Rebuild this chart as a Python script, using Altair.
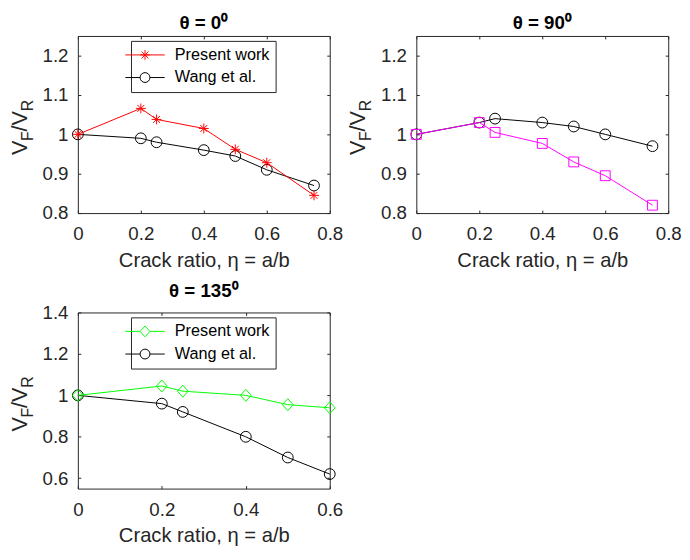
import altair as alt
import pandas as pd

# ---------------- data ----------------
eta_full = [0.0, 0.2, 0.25, 0.4, 0.5, 0.6, 0.75]
eta_135 = [0.0, 0.2, 0.25, 0.4, 0.5, 0.6]

present_0 = [1.0, 1.066, 1.038, 1.015, 0.962, 0.928, 0.845]
wang_0 = [1.0, 0.990, 0.980, 0.960, 0.945, 0.910, 0.870]

present_90 = [1.0, 1.030, 1.005, 0.977, 0.930, 0.895, 0.820]
wang_90 = [1.0, 1.030, 1.040, 1.030, 1.020, 1.000, 0.970]

present_135 = [1.0, 1.045, 1.020, 1.000, 0.955, 0.940]
wang_135 = [1.0, 0.960, 0.920, 0.800, 0.700, 0.620]

series_names = ["Present work", "Wang et al."]
titles = ["\u03b8 = 0\u2070", "\u03b8 = 90\u2070", "\u03b8 = 135\u2070"]
x_ticks_a = [0, 0.2, 0.4, 0.6, 0.8]
x_ticks_b = [0, 0.2, 0.4, 0.6]
y_ticks_a = [0.8, 0.9, 1.0, 1.1, 1.2]
y_ticks_b = [0.6, 0.8, 1.0, 1.2, 1.4]

# ---------------- styles ----------------
FONT = "Liberation Sans"
AX = "#262626"
W = 256

ASTER = "M-1,0L1,0M0,-1L0,1M-0.7,-0.7L0.7,0.7M-0.7,0.7L0.7,-0.7"
CIRC = "M1,0A1,1,0,1,1,-1,0A1,1,0,1,1,1,0"
SQR = "M-1,-1L1,-1L1,1L-1,1Z"
DIAM = "M-1,0L0,-1.1L1,0L0,1.1Z"
LINE = "M-4,0L-1,0M1,0L4,0"
LINE_THRU = "M-4,0L4,0"


def ytitle_layer():
    pieces = [
        ("V", 22, 0, 0),
        ("F", 16, 14.2, 6),
        ("/", 22, 24.0, 0),
        ("V", 22, 30.0, 0),
        ("R", 16, 44.5, 6),
    ]
    layers = []
    for txt, fs, dx, dy in pieces:
        layers.append(
            alt.Chart(alt.Data(values=[{"t": txt}]))
            .mark_text(font=FONT, fontSize=fs, angle=270, align="left",
                       baseline="alphabetic", dx=dx, dy=dy, color=AX)
            .encode(text="t:N", x=alt.value(-52), y=alt.value(121))
        )
    return layers


def panel(title, eta, present, wang, color, marker, msize, legend_marker,
          xdom, ydom, xticks, yticks, h):
    df = pd.DataFrame({
        "eta": eta * 2,
        "v": present + wang,
        "series": [series_names[0]] * len(eta) + [series_names[1]] * len(eta),
    })
    base = alt.Chart(df)
    xenc = alt.X("eta:Q", scale=alt.Scale(domain=xdom, nice=False, zero=False, padding=0),
                 axis=alt.Axis(values=xticks, format="~g", title="Crack ratio,  \u03b7 = a/b",
                               labelFlush=False, gridDash=[3, h - 6, 3]))
    yenc = alt.Y("v:Q", scale=alt.Scale(domain=ydom, nice=False, zero=False, padding=0),
                 axis=alt.Axis(values=yticks, format="~g", title=None,
                               gridDash=[3, W - 6, 3]))
    layers = []
    specs = [(series_names[1], "black", CIRC, 121), (series_names[0], color, marker, msize)]
    for name, c, shp, sz in specs:
        sub = base.transform_filter(alt.datum.series == name)
        layers.append(sub.mark_line(color=c, strokeWidth=1).encode(x=xenc, y=yenc))
        layers.append(sub.mark_point(shape=shp, size=sz, filled=False, color=c,
                                     strokeWidth=1, opacity=1).encode(x=xenc, y=yenc))
    leg = base.mark_point(opacity=0, filled=False).encode(
        x=xenc, y=yenc,
        stroke=alt.Stroke("series:N", scale=alt.Scale(domain=series_names, range=[color, "black"]),
                          legend=alt.Legend(title=None, orient="none", legendX=54, legendY=5,
                                            strokeColor=AX, fillColor="white",
                                            padding=6, labelFont=FONT, labelFontSize=16.5,
                                            labelColor="black", symbolSize=100,
                                            symbolStrokeWidth=1, labelOffset=22,
                                            rowPadding=6)),
        shape=alt.Shape("series:N", scale=alt.Scale(domain=series_names,
                                                    range=[legend_marker, LINE + CIRC])),
    )
    layers.append(leg)
    layers += ytitle_layer()
    return alt.layer(*layers).properties(
        width=W, height=h,
        title=alt.Title(title, font=FONT, fontSize=19, fontWeight="bold", color="black",
                        offset=3),
    )


p0 = panel(titles[0], eta_full, present_0, wang_0, "#ff0000", ASTER, 100,
           LINE_THRU + ASTER, [0, 0.8], [0.8, 1.25], x_ticks_a, y_ticks_a, 180)
p90 = panel(titles[1], eta_full, present_90, wang_90, "#ff00ff", SQR, 100,
            LINE + SQR, [0, 0.8], [0.8, 1.25], x_ticks_a, y_ticks_a, 180)
p135 = panel(titles[2], eta_135, present_135, wang_135, "#00ff00", DIAM, 121,
             LINE + DIAM, [0, 0.6], [0.55, 1.4], x_ticks_b, y_ticks_b, 179)

chart = alt.vconcat(
    alt.hconcat(p0, p90, spacing=3),
    p135,
    spacing=10,
).resolve_scale(stroke="independent", shape="independent").properties(
    padding={"left": 0, "top": 1, "right": 0, "bottom": 0}
).configure_view(stroke=AX, strokeWidth=1).configure_axis(
    domain=False, ticks=False, grid=True, gridColor=AX, gridOpacity=1, gridWidth=1,
    labelFont=FONT, labelFontSize=19, labelColor=AX,
    titleFont=FONT, titleFontSize=20.5, titleFontWeight="normal", titleColor=AX,
).configure_axisX(labelPadding=12, titlePadding=7).configure_axisY(labelPadding=10)

chart.save("out.html", embed_options={"renderer": "svg", "actions": False})
